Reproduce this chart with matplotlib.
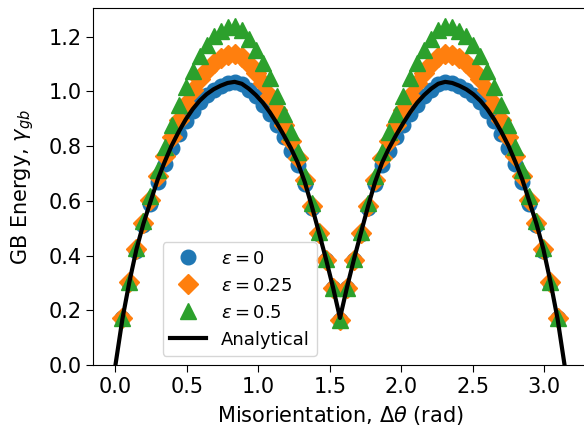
import numpy as np
import matplotlib
matplotlib.use("Agg")
import matplotlib.pyplot as plt

# === Данни (отчетени от графиката) ===
# ъгли на дезориентация, rad (0 ... pi)
angles = [0.000, 0.049, 0.098, 0.147, 0.196, 0.245, 0.295, 0.344, 0.393, 0.442,
          0.491, 0.540, 0.589, 0.638, 0.687, 0.736, 0.785, 0.834, 0.884, 0.933,
          0.982, 1.031, 1.080, 1.129, 1.178, 1.227, 1.276, 1.325, 1.374, 1.424,
          1.473, 1.522, 1.571, 1.620, 1.669, 1.718, 1.767, 1.816, 1.865, 1.914,
          1.963, 2.013, 2.062, 2.111, 2.160, 2.209, 2.258, 2.307, 2.356, 2.405,
          2.454, 2.503, 2.553, 2.602, 2.651, 2.700, 2.749, 2.798, 2.847, 2.896,
          2.945, 2.994, 3.043, 3.093, 3.142]

gamma_analytical = [0.000, 0.169, 0.305, 0.423, 0.517, 0.597, 0.677, 0.742, 0.802, 0.852,
                    0.897, 0.935, 0.966, 0.990, 1.008, 1.021, 1.031, 1.035, 1.028, 1.010,
                    0.987, 0.959, 0.924, 0.884, 0.840, 0.793, 0.739, 0.668, 0.580, 0.484,
                    0.387, 0.284, 0.172, 0.284, 0.387, 0.484, 0.580, 0.668, 0.739, 0.793,
                    0.840, 0.884, 0.924, 0.959, 0.987, 1.010, 1.028, 1.035, 1.031, 1.021,
                    1.008, 0.990, 0.966, 0.935, 0.897, 0.852, 0.802, 0.742, 0.677, 0.597,
                    0.517, 0.423, 0.305, 0.169, 0.000]

# симулации (без крайните точки 0 и pi)
gamma_eps0 = [0.172, 0.300, 0.418, 0.510, 0.590, 0.668, 0.735, 0.795, 0.846, 0.892,
              0.930, 0.962, 0.987, 1.006, 1.020, 1.030, 1.034, 1.026, 1.006, 0.982,
              0.952, 0.917, 0.876, 0.832, 0.784, 0.730, 0.660, 0.573, 0.478, 0.382,
              0.280, 0.165, 0.280, 0.382, 0.478, 0.573, 0.660, 0.730, 0.784, 0.832,
              0.876, 0.917, 0.952, 0.982, 1.006, 1.026, 1.034, 1.030, 1.020, 1.006,
              0.987, 0.962, 0.930, 0.892, 0.846, 0.795, 0.735, 0.668, 0.590, 0.510,
              0.418, 0.300, 0.172]

gamma_eps025 = [0.172, 0.303, 0.424, 0.520, 0.604, 0.690, 0.765, 0.835, 0.897, 0.955,
                1.004, 1.046, 1.079, 1.104, 1.121, 1.133, 1.137, 1.126, 1.101, 1.068,
                1.030, 0.983, 0.931, 0.876, 0.818, 0.755, 0.676, 0.582, 0.482, 0.384,
                0.281, 0.165, 0.281, 0.384, 0.482, 0.582, 0.676, 0.755, 0.818, 0.876,
                0.931, 0.983, 1.030, 1.068, 1.101, 1.126, 1.137, 1.133, 1.121, 1.104,
                1.079, 1.046, 1.004, 0.955, 0.897, 0.835, 0.765, 0.690, 0.604, 0.520,
                0.424, 0.303, 0.172]

gamma_eps05 = [0.172, 0.305, 0.428, 0.528, 0.619, 0.712, 0.796, 0.876, 0.949, 1.016,
               1.076, 1.128, 1.169, 1.201, 1.222, 1.236, 1.240, 1.225, 1.193, 1.153,
               1.104, 1.048, 0.985, 0.918, 0.851, 0.779, 0.692, 0.591, 0.488, 0.386,
               0.282, 0.165, 0.282, 0.386, 0.488, 0.591, 0.692, 0.779, 0.851, 0.918,
               0.985, 1.048, 1.104, 1.153, 1.193, 1.225, 1.240, 1.236, 1.222, 1.201,
               1.169, 1.128, 1.076, 1.016, 0.949, 0.876, 0.796, 0.712, 0.619, 0.528,
               0.428, 0.305, 0.172]

theta_sim = angles[1:-1]

# === Графика ===
plt.rcParams['font.size'] = 15
fig = plt.figure(figsize=(5.84, 4.29), dpi=100)
ax = fig.add_axes([93 / 584, 64 / 429, 494 / 584, 357 / 429])

ax.plot(theta_sim, gamma_eps0, 'o', color='tab:blue', markersize=10.5, label=r'$\varepsilon = 0$')
ax.plot(theta_sim, gamma_eps025, 'D', color='tab:orange', markersize=10, label=r'$\varepsilon = 0.25$')
ax.plot(theta_sim, gamma_eps05, '^', color='tab:green', markersize=11, label=r'$\varepsilon = 0.5$')
ax.plot(angles, gamma_analytical, '-', color='black', linewidth=3, label='Analytical')

ax.set_xlim(-0.157, 3.299)
ax.set_ylim(0, 1.305)
ax.set_xlabel(r'Misorientation, $\Delta\theta$ (rad)', fontsize=15, labelpad=5.5)
ax.set_ylabel(r'GB Energy, $\gamma_{gb}$', fontsize=15, labelpad=9)
ax.tick_params(length=4.8, labelsize=15)

ax.legend(loc='lower left', bbox_to_anchor=(0.123, 0.0), fontsize=13)

fig.savefig('out.png', dpi=100)
